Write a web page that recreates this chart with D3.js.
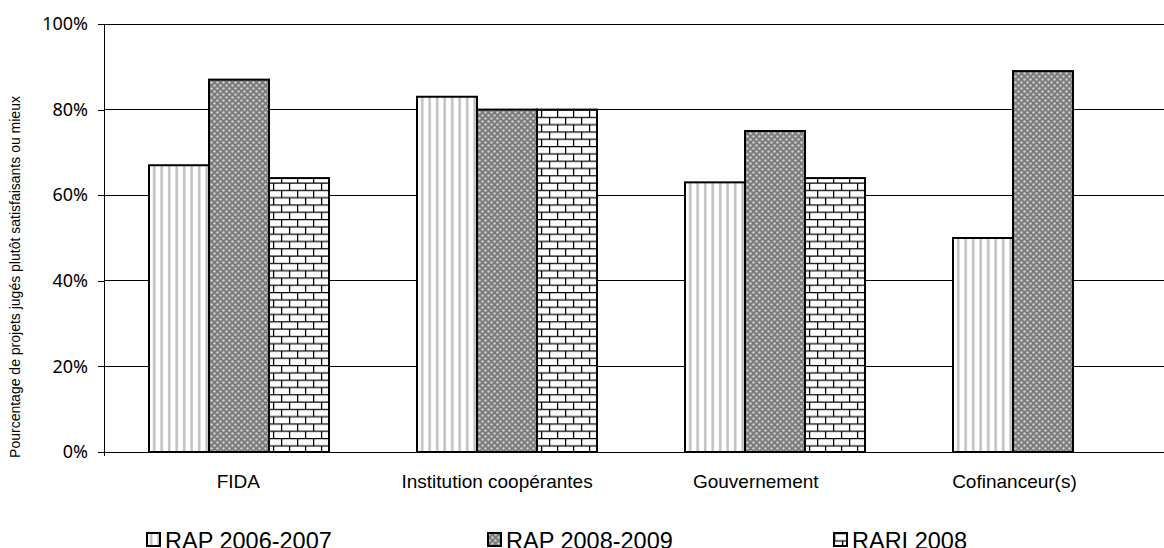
<!DOCTYPE html>
<html>
<head>
<meta charset="utf-8">
<script src="https://cdn.jsdelivr.net/npm/d3@7"></script>
<style>
  body { margin: 0; background: #fff; }
  svg { display: block; }
</style>
</head>
<body>
<div id="chart"></div>
<script>
// data
var categories = ["FIDA", "Institution coopérantes", "Gouvernement", "Cofinanceur(s)"];
var seriesNames = ["RAP 2006-2007", "RAP 2008-2009", "RARI 2008"];
var rap0607 = [67, 83, 63, 50];
var rap0809 = [87, 80, 75, 89];
var rari08 = [64, 80, 64, null];
var yTicks = [0, 20, 40, 60, 80, 100];
var yTitle = "Pourcentage de projets jugés plutôt satisfaisants ou mieux";

var W = 1164, H = 548;
var plotLeft = 104, plotTop = 24, plotBottom = 452;

var svg = d3.select("#chart").append("svg")
    .attr("width", W).attr("height", H);

var defs = svg.append("defs");

// vertical stripes
var p1 = defs.append("pattern").attr("id", "stripes")
    .attr("patternUnits", "userSpaceOnUse").attr("width", 7.5).attr("height", 10);
p1.append("rect").attr("width", 7.5).attr("height", 10).attr("fill", "#fff");
p1.append("rect").attr("x", 3).attr("width", 2.4).attr("height", 10).attr("fill", "#bdbdbd");

// dense checker
var p2 = defs.append("pattern").attr("id", "checker")
    .attr("patternUnits", "userSpaceOnUse").attr("width", 6).attr("height", 6);
p2.append("rect").attr("width", 6).attr("height", 6).attr("fill", "#7c7c7c");
p2.append("circle").attr("cx", 1.5).attr("cy", 1.5).attr("r", 1.2).attr("fill", "#cfcfcf");
p2.append("circle").attr("cx", 4.5).attr("cy", 4.5).attr("r", 1.2).attr("fill", "#cfcfcf");

// bricks
var p3 = defs.append("pattern").attr("id", "bricks")
    .attr("patternUnits", "userSpaceOnUse").attr("width", 16).attr("height", 14.6);
p3.append("rect").attr("width", 16).attr("height", 14.6).attr("fill", "#fff");
p3.append("path")
    .attr("d", "M0,0.6H16M0,7.9H16M0.6,0V7.9M8.6,7.9V14.6")
    .attr("stroke", "#000").attr("stroke-width", 1.3).attr("fill", "none");

var fills = ["url(#stripes)", "url(#checker)", "url(#bricks)"];

var y = d3.scaleLinear().domain([0, 100]).range([plotBottom, plotTop]);
var x0 = d3.scaleBand().domain(categories).range([105, 105 + 4 * 268]);
var x1 = d3.scaleBand().domain(seriesNames).range([44, 224]);
var xLabel = d3.scaleBand().domain(categories).range([109, 109 + 4 * 258.7]);

// gridlines
svg.append("g").selectAll("line")
    .data(yTicks.filter(function (d) { return d > 0; }))
    .enter().append("line")
    .attr("x1", plotLeft).attr("x2", W)
    .attr("y1", function (d) { return y(d); })
    .attr("y2", function (d) { return y(d); })
    .attr("stroke", "#000").attr("stroke-width", 1).attr("shape-rendering", "crispEdges");

// y axis
var yAxis = svg.append("g")
    .attr("transform", "translate(" + plotLeft + ",0)")
    .call(d3.axisLeft(y).tickValues(yTicks).tickSize(6).tickPadding(10)
        .tickFormat(function (d) { return d + "%"; }));
yAxis.select(".domain").attr("stroke", "#000").attr("shape-rendering", "crispEdges");
yAxis.selectAll(".tick line").attr("stroke", "#000").attr("shape-rendering", "crispEdges");
yAxis.selectAll("text").attr("font-family", "Noto Sans").attr("font-size", 18).attr("fill", "#000");

var rows = categories.map(function (c, i) {
  return [rap0607[i], rap0809[i], rari08[i]];
});

// bars
var groups = svg.append("g").selectAll("g")
    .data(rows).enter().append("g")
    .attr("transform", function (d, i) { return "translate(" + x0(categories[i]) + ",0)"; });

groups.selectAll("rect")
    .data(function (d) {
      return d.map(function (v, j) { return { v: v, j: j }; })
          .filter(function (o) { return o.v != null; });
    })
    .enter().append("rect")
    .attr("x", function (o) { return x1(seriesNames[o.j]); })
    .attr("width", x1.bandwidth())
    .attr("y", function (o) { return y(o.v); })
    .attr("height", function (o) { return y(0) - y(o.v); })
    .attr("fill", function (o) { return fills[o.j]; })
    .attr("stroke", "#000").attr("stroke-width", 2);

// x axis baseline
svg.append("line")
    .attr("x1", plotLeft - 6).attr("x2", W)
    .attr("y1", plotBottom).attr("y2", plotBottom)
    .attr("stroke", "#000").attr("shape-rendering", "crispEdges");
svg.append("line")
    .attr("x1", plotLeft).attr("x2", plotLeft)
    .attr("y1", plotBottom).attr("y2", plotBottom + 4)
    .attr("stroke", "#000").attr("shape-rendering", "crispEdges");

// category labels
svg.append("g").selectAll("text")
    .data(categories).enter().append("text")
    .attr("x", function (d) { return xLabel(d) + xLabel.bandwidth() / 2; })
    .attr("y", 488)
    .attr("text-anchor", "middle")
    .attr("font-family", "Liberation Sans, Arial, sans-serif")
    .attr("font-size", 19)
    .text(function (d) { return d; });

// y title
svg.append("text")
    .attr("transform", "translate(20,277) rotate(-90)")
    .attr("text-anchor", "middle")
    .attr("font-family", "Liberation Sans, Arial, sans-serif")
    .attr("font-size", 14)
    .text(yTitle);

// legend
var legendX = [147, 488, 834];
var lg = svg.append("g").selectAll("g")
    .data(seriesNames).enter().append("g")
    .attr("transform", function (d, i) { return "translate(" + legendX[i] + ",533)"; });
lg.append("rect")
    .attr("width", 13).attr("height", 13)
    .attr("fill", function (d, i) { return fills[i]; })
    .attr("stroke", "#000").attr("stroke-width", 2);
lg.append("text")
    .attr("x", 18).attr("y", 16)
    .attr("font-family", "Liberation Sans, Arial, sans-serif")
    .attr("font-size", 23.5)
    .text(function (d) { return d; });
</script>
</body>
</html>
